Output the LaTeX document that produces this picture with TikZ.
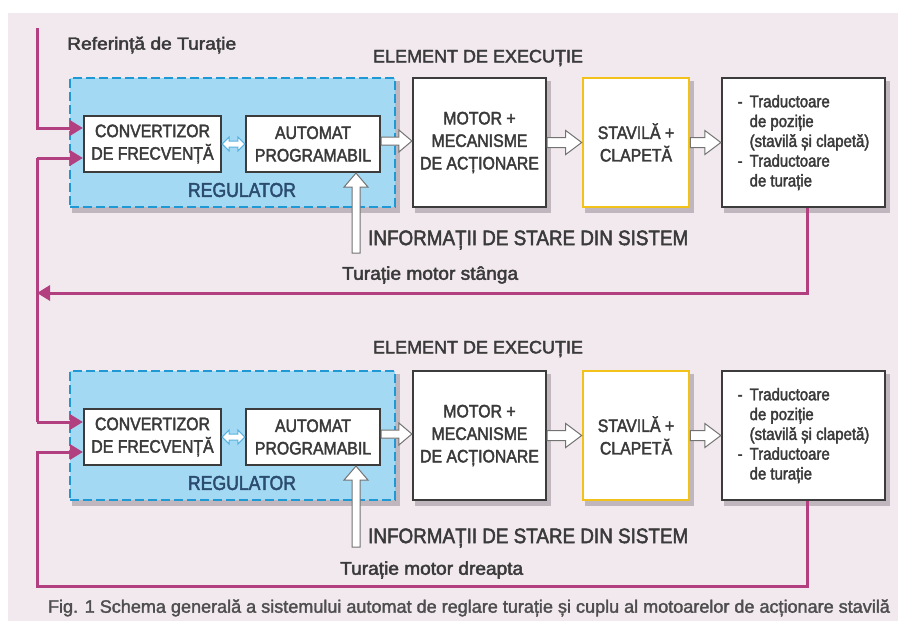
\documentclass[tikz,border=0pt]{standalone}
\usepackage{fontspec}
\setmainfont{Liberation Sans}[FakeBold=2]
\newfontfamily\condf[FakeStretch=0.88,FakeBold=2.2]{Liberation Sans}
\newfontfamily\capf[FakeStretch=0.8,FakeBold=1.6]{Liberation Sans}
\usetikzlibrary{arrows.meta,calc,backgrounds}
\definecolor{panel}{HTML}{F2E9EF}
\definecolor{shcol}{HTML}{BFB7BD}
\definecolor{regfill}{HTML}{A3D9F3}
\definecolor{regblue}{HTML}{1F98D6}
\definecolor{mag}{HTML}{B23F7F}
\definecolor{yel}{HTML}{F2C21B}
\definecolor{boxline}{HTML}{3C3C3C}
\definecolor{txt}{HTML}{3A3A3A}
\definecolor{regtxt}{HTML}{2B4C6F}
\newsavebox\fitbox
\newcommand\fitx[2]{\sbox\fitbox{#2}\pgfmathsetmacro\fitr{#1/\wd\fitbox}\scalebox{\fitr}[1]{\usebox\fitbox}}
\newcommand\shadowof[1]{\fill[shcol] ($(#1.south west)+(3.5,4.5)$) rectangle ($(#1.north east)+(3.5,4.5)$);}
\newcommand\hollowH[5]{%
 \draw[hollow] let \p1=(#1), \p2=(#2) in (\x1,\y1+#3) -- (\x2-#5,\y1+#3) -- (\x2-#5,\y1+#4) -- (\x2,\y1) -- (\x2-#5,\y1-#4) -- (\x2-#5,\y1-#3) -- (\x1,\y1-#3) -- cycle;}
\newcommand\hollowD[5]{%
 \draw[hollowd] let \p1=(#1), \p2=(#2) in (\x1,\y1) -- (\x1+#5,\y1+#4) -- (\x1+#5,\y1+#3) -- (\x2-#5,\y1+#3) -- (\x2-#5,\y1+#4) -- (\x2,\y1) -- (\x2-#5,\y1-#4) -- (\x2-#5,\y1-#3) -- (\x1+#5,\y1-#3) -- (\x1+#5,\y1-#4) -- cycle;}
\newcommand\hollowV[5]{%
 \draw[hollow] let \p1=(#1), \p2=(#2) in (\x1-#3,\y1) -- (\x1-#3,\y2-#5) -- (\x1-#4,\y2-#5) -- (\x1,\y2) -- (\x1+#4,\y2-#5) -- (\x1+#3,\y2-#5) -- (\x1+#3,\y1) -- cycle;}
\begin{document}
\begin{tikzpicture}[x=1pt,y=-1pt,
  regbox/.style={draw=regblue,fill=regfill,line width=2.6pt,dash pattern=on 9pt off 4pt,minimum width=325pt,minimum height=129pt},
  wbox/.style={draw=boxline,fill=white,line width=2.2pt,text=txt,align=center,font=\condf\fontsize{18}{22.5}\selectfont},
  ybox/.style={wbox,draw=yel,line width=2.6pt},
  tbox/.style={wbox,align=left,font=\condf\fontsize{17}{19.8}\selectfont,inner sep=6pt},
  lab/.style={inner sep=0pt,text=txt},
  hollow/.style={draw=gray!90!black,fill=white,line width=1pt},
  hollowd/.style={draw=regblue!75,fill=white,line width=1pt},
  fbl/.style={draw=mag,line width=3pt},
  fb/.style={fbl,-{Triangle[length=13pt,width=15pt]}}
]
\useasboundingbox (0,0) rectangle (898,621);

% ---------- upper system ----------
\node[regbox] (reg1) at (232.5,142.5) {};
\node[wbox,minimum width=137pt,minimum height=56pt] (conv1) at (152.5,144) {CONVERTIZOR\\DE FRECVENȚĂ};
\node[wbox,minimum width=134pt,minimum height=56pt] (aut1) at (313,144) {AUTOMAT\\PROGRAMABIL};
\node[wbox,minimum width=133pt,minimum height=129pt] (mot1) at (479.5,142.5) {MOTOR +\\MECANISME\\DE ACȚIONARE};
\node[ybox,minimum width=106pt,minimum height=129pt] (stav1) at (636,142.5) {STAVILĂ +\\CLAPETĂ};
\node[tbox,minimum width=163pt,minimum height=129pt] (trad1) at (803.5,142.5) {\makebox[12pt][l]{-}Traductoare\\\hspace*{12pt}de poziție\\\hspace*{12pt}(stavilă și clapetă)\\\makebox[12pt][l]{-}Traductoare\\\hspace*{12pt}de turație};

\node[lab,anchor=west,font=\condf\fontsize{17.5}{20}\selectfont] (ref) at (67,45) {\fitx{169}{Referință de Turație}};
\node[lab,font=\condf\fontsize{18}{20}\selectfont] (el1) at (478,58) {\fitx{210}{ELEMENT DE EXECUȚIE}};
\node[lab,text=regtxt,font=\condf\fontsize{20}{22}\selectfont] (rl1) at (242,190) {\fitx{108}{REGULATOR}};
\node[lab,anchor=west,font=\condf\fontsize{21}{22}\selectfont] (inf1) at (368,240) {\fitx{320}{INFORMAȚII DE STARE DIN SISTEM}};
\node[lab,anchor=west,font=\condf\fontsize{18.5}{20}\selectfont] (tm1) at (342,275) {\fitx{176}{Turație motor stânga}};

\hollowD{conv1.east}{aut1.west}{3pt}{7pt}{7pt}
\hollowH{$(aut1.east)+(0,-3)$}{$(mot1.west)+(0,-1.5)$}{4pt}{11pt}{13pt}
\hollowH{mot1.east}{stav1.west}{5pt}{12pt}{16pt}
\hollowH{stav1.east}{trad1.west}{5pt}{12pt}{16pt}
\coordinate (ia1) at (356,253);
\hollowV{ia1}{aut1.south -| ia1}{4pt}{12pt}{14pt}

% ---------- lower system ----------
\node[regbox] (reg2) at (232.5,435.5) {};
\node[wbox,minimum width=137pt,minimum height=56pt] (conv2) at (152.5,437) {CONVERTIZOR\\DE FRECVENȚĂ};
\node[wbox,minimum width=134pt,minimum height=56pt] (aut2) at (313,437) {AUTOMAT\\PROGRAMABIL};
\node[wbox,minimum width=133pt,minimum height=129pt] (mot2) at (479.5,435.5) {MOTOR +\\MECANISME\\DE ACȚIONARE};
\node[ybox,minimum width=106pt,minimum height=129pt] (stav2) at (636,435.5) {STAVILĂ +\\CLAPETĂ};
\node[tbox,minimum width=163pt,minimum height=129pt] (trad2) at (803.5,435.5) {\makebox[12pt][l]{-}Traductoare\\\hspace*{12pt}de poziție\\\hspace*{12pt}(stavilă și clapetă)\\\makebox[12pt][l]{-}Traductoare\\\hspace*{12pt}de turație};

\node[lab,font=\condf\fontsize{18}{20}\selectfont] (el2) at (478,349) {\fitx{210}{ELEMENT DE EXECUȚIE}};
\node[lab,text=regtxt,font=\condf\fontsize{20}{22}\selectfont] (rl2) at (242,483) {\fitx{108}{REGULATOR}};
\node[lab,anchor=west,font=\condf\fontsize{21}{22}\selectfont] (inf2) at (368,538) {\fitx{320}{INFORMAȚII DE STARE DIN SISTEM}};
\node[lab,anchor=west,font=\condf\fontsize{18.5}{20}\selectfont] (tm2) at (340,570) {\fitx{183}{Turație motor dreapta}};

\hollowD{conv2.east}{aut2.west}{3pt}{7pt}{7pt}
\hollowH{$(aut2.east)+(0,-3)$}{$(mot2.west)+(0,-1.5)$}{4pt}{11pt}{13pt}
\hollowH{mot2.east}{stav2.west}{5pt}{12pt}{16pt}
\hollowH{stav2.east}{trad2.west}{5pt}{12pt}{16pt}
\coordinate (ia2) at (356,547);
\hollowV{ia2}{aut2.south -| ia2}{4pt}{12pt}{14pt}

% ---------- feedback lines ----------
\coordinate (refstart) at (37,28);
\coordinate (busx) at (37,0);
\coordinate (fb1y) at (0,293);
\coordinate (fb2y) at (0,586);
\coordinate (in1a) at ($(conv1.west)+(0,-16)$);
\coordinate (in1b) at ($(conv1.west)+(0,14)$);
\coordinate (in2a) at ($(conv2.west)+(0,-15)$);
\coordinate (in2b) at ($(conv2.west)+(0,15)$);
\draw[fb] (refstart) |- (in1a);
\draw[fbl] (busx |- in1b) -- (busx |- in2a);
\draw[fb] (busx |- in1b) -- (in1b);
\draw[fb] (busx |- in2a) -- (in2a);
\draw[fb] ($(trad1.south)+(3.5,0)$) |- (busx |- fb1y);
\draw[fb] ($(trad2.south)+(3.5,0)$) |- (busx |- fb2y) |- (in2b);

% ---------- caption ----------
\node[lab,text=txt!90!white,font=\capf\fontsize{18}{20}\selectfont] (cap) at (469,608) {\fitx{842}{Fig. 1 Schema generală a sistemului automat de reglare turație și cuplu al motoarelor de acționare stavilă}};

% ---------- background: panel and shadows ----------
\begin{pgfonlayer}{background}
\fill[panel] (8,13) rectangle (898,621);
\shadowof{reg1}\shadowof{mot1}\shadowof{stav1}\shadowof{trad1}
\shadowof{reg2}\shadowof{mot2}\shadowof{stav2}\shadowof{trad2}
\end{pgfonlayer}
\end{tikzpicture}
\end{document}
